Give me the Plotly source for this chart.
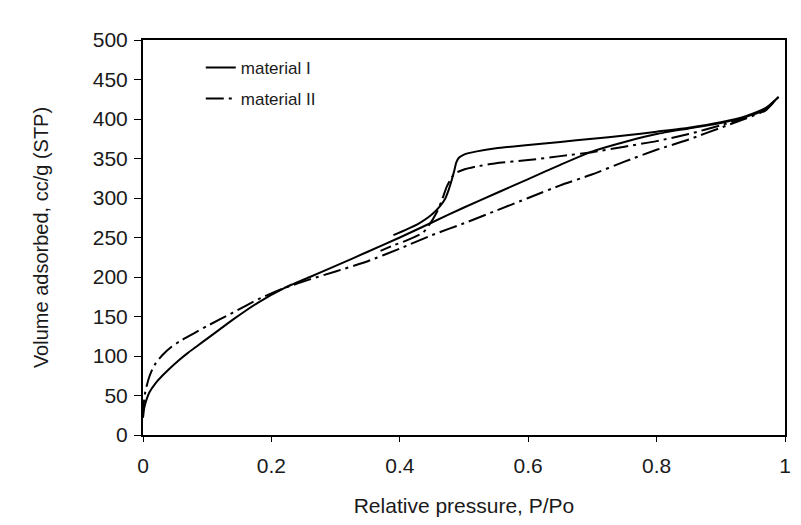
import plotly.graph_objects as go

# Material I (solid) - adsorption branch
m1_ads_p = [0.0, 0.001, 0.003, 0.006, 0.01, 0.02, 0.03, 0.04, 0.055, 0.07, 0.085, 0.1, 0.12, 0.14,
            0.18, 0.22, 0.26, 0.3, 0.35, 0.4, 0.45, 0.5, 0.55, 0.6, 0.65, 0.7, 0.75, 0.8, 0.85,
            0.9, 0.94, 0.97, 0.99]
m1_ads_v = [22, 30, 38, 46, 54, 66, 75, 83, 94, 104, 113, 122, 134, 146,
            168, 186, 200, 214, 232, 250, 269, 288, 306, 324, 342, 359, 371, 381, 388,
            395, 403, 412, 428]
# Material I - desorption branch
m1_des_p = [0.99, 0.97, 0.94, 0.9, 0.85, 0.8, 0.75, 0.7, 0.65, 0.6, 0.55, 0.52, 0.5, 0.492,
            0.488, 0.485, 0.481, 0.476, 0.47, 0.463, 0.455, 0.445, 0.43, 0.41, 0.39]
m1_des_v = [428, 414, 404, 396, 389, 384, 379, 375, 371, 367, 363, 359, 355, 351,
            345, 335, 323, 310, 298, 290, 283, 276, 268, 260, 253]

# Material II (dash-dot) - adsorption branch
m2_ads_p = [0.0, 0.001, 0.003, 0.006, 0.01, 0.015, 0.02, 0.03, 0.045, 0.06, 0.08, 0.1, 0.14,
            0.18, 0.22, 0.26, 0.3, 0.35, 0.4, 0.45, 0.5, 0.55, 0.6, 0.65, 0.7, 0.75, 0.8, 0.85,
            0.9, 0.94, 0.97, 0.99]
m2_ads_v = [22, 38, 52, 63, 74, 84, 91, 101, 112, 120, 129, 138, 155,
            172, 186, 197, 207, 220, 236, 253, 268, 284, 300, 316, 330, 346, 361, 374,
            389, 401, 411, 428]
# Material II - desorption branch
m2_des_p = [0.99, 0.97, 0.94, 0.9, 0.85, 0.8, 0.75, 0.7, 0.65, 0.6, 0.55, 0.52, 0.5, 0.485,
            0.478, 0.473, 0.465, 0.457, 0.445, 0.436, 0.41, 0.39, 0.37]
m2_des_v = [428, 413, 403, 392, 381, 372, 365, 358, 353, 348, 344, 340, 336, 331,
            322, 314, 296, 281, 265, 256, 246, 240, 233]

x_ticks = [0, 0.2, 0.4, 0.6, 0.8, 1]
x_tick_labels = ["0", "0.2", "0.4", "0.6", "0.8", "1"]
y_ticks = [0, 50, 100, 150, 200, 250, 300, 350, 400, 450, 500]

fig = go.Figure()
fig.add_trace(go.Scatter(
    x=m1_ads_p + m1_des_p, y=m1_ads_v + m1_des_v, mode="lines",
    name="material I", legendgroup="a",
    line=dict(color="black", width=2, shape="spline", smoothing=0.5),
))
fig.add_trace(go.Scatter(
    x=m2_ads_p + m2_des_p, y=m2_ads_v + m2_des_v, mode="lines",
    name="material II", legendgroup="b",
    line=dict(color="black", width=2, dash="18px,5px,3px,5px", shape="spline", smoothing=0.5),
))

font_family = "Liberation Sans, Arial, sans-serif"
fig.update_layout(
    width=801, height=525,
    margin=dict(l=135, r=24, t=32, b=98, autoexpand=False),
    paper_bgcolor="white", plot_bgcolor="white",
    font=dict(family=font_family, size=21, color="#1a1a1a"),
    showlegend=True,
    legend=dict(x=0.09, y=0.975, xanchor="left", yanchor="top",
                bgcolor="rgba(0,0,0,0)", font=dict(size=17),
                tracegroupgap=6),
    xaxis=dict(range=[0, 1], tickvals=x_ticks, ticktext=x_tick_labels,
               showgrid=False, zeroline=False, showline=True, linecolor="black",
               linewidth=2, mirror=True, ticks="outside", ticklen=5, tickcolor="black",
               tickfont=dict(size=21), ticklabelstandoff=6,
               title=dict(text="Relative pressure, P/Po", font=dict(size=21), standoff=22)),
    yaxis=dict(range=[0, 500], tickvals=y_ticks,
               showgrid=False, zeroline=False, showline=True, linecolor="black",
               linewidth=2, mirror=True, ticks="outside", ticklen=7, tickcolor="black",
               tickfont=dict(size=21), ticklabelstandoff=2,
               title=dict(text="Volume adsorbed, cc/g (STP)", font=dict(size=20), standoff=39)),
)

fig.write_html("out.html")
